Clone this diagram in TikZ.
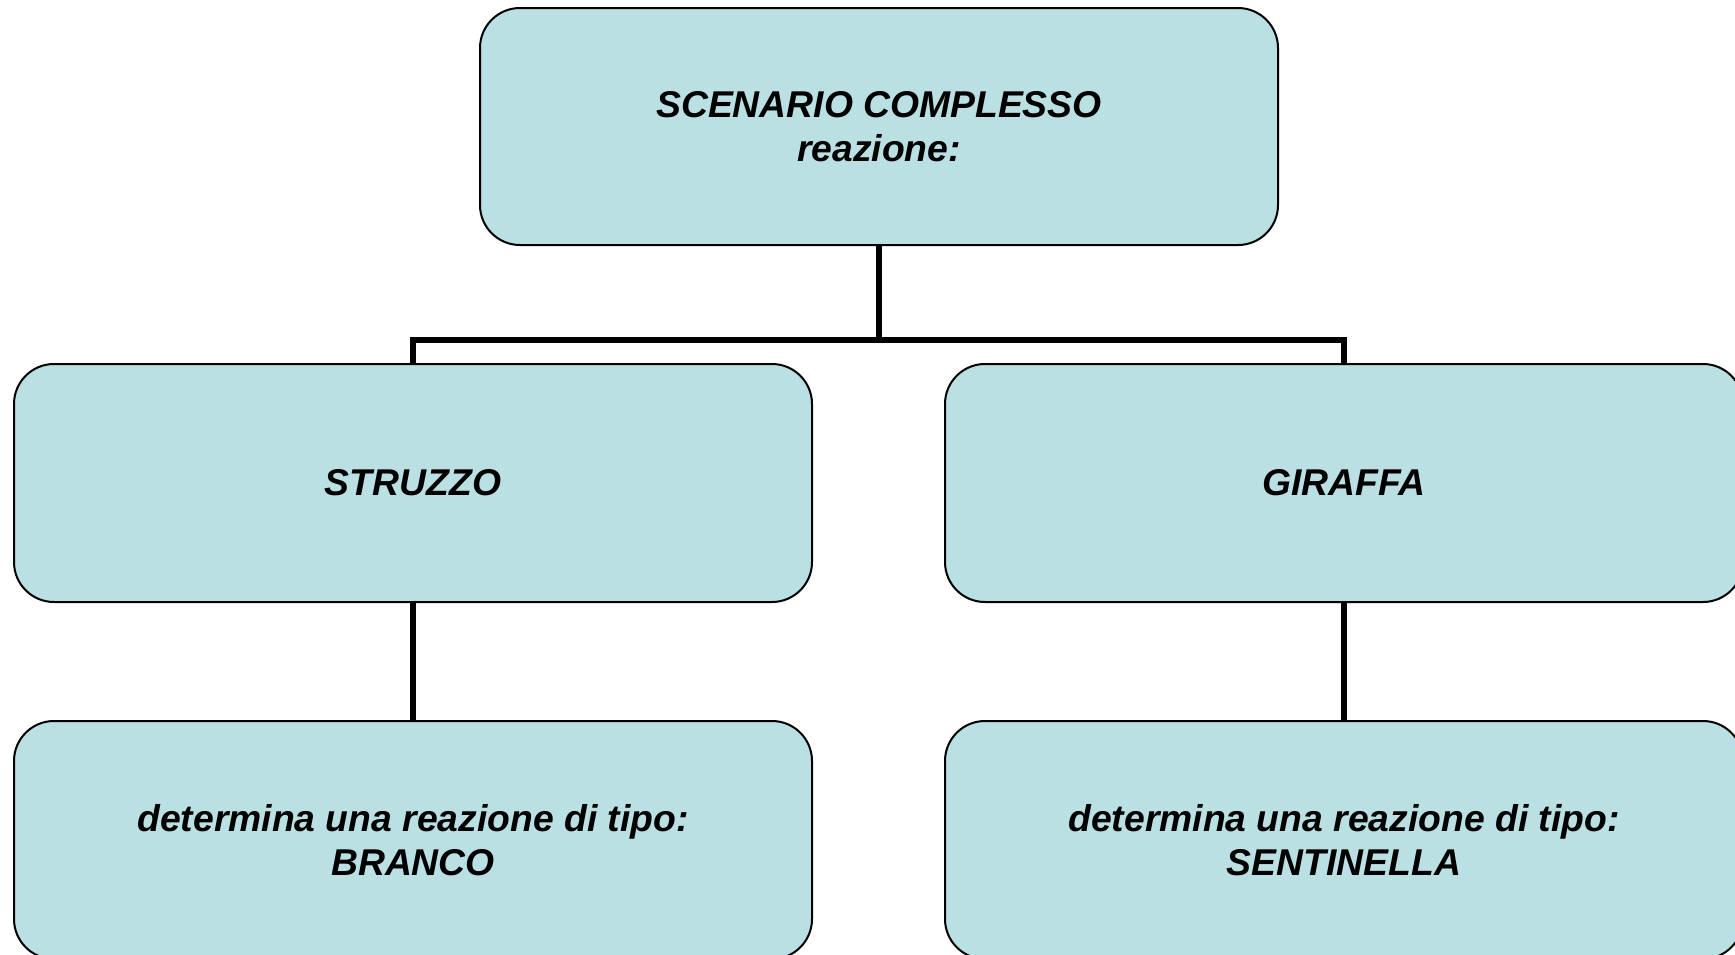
\documentclass[tikz,border=0pt]{standalone}
\usepackage{fontspec}
\setmainfont{Liberation Sans}
\definecolor{boxfill}{RGB}{186,224,227}
\tikzset{
  box/.style={draw=black, line width=2pt, fill=boxfill, rounded corners=40pt,
    minimum width=798pt, minimum height=238pt, inner sep=0pt, align=center,
    font=\fontsize{37.3}{44}\selectfont\bfseries\itshape},
  conn/.style={draw=black, line width=5.5pt}
}
\begin{document}
\begin{tikzpicture}[x=1pt,y=-1pt]
\useasboundingbox (0,0) rectangle (1735,954);
\clip (0,0) rectangle (1735,954);
\node[box, minimum height=237pt] (top) at (879,126.5) {SCENARIO COMPLESSO\\reazione:};
\node[box] (sl) at (413,483) {STRUZZO};
\node[box] (sr) at (1344,483) {GIRAFFA};
\node[box] (bl) at (413,840) {determina una reazione di tipo:\\BRANCO};
\node[box] (br) at (1344,840) {determina una reazione di tipo:\\SENTINELLA};
\coordinate (bus) at (879,340);
\draw[conn] (top.south) -- (bus);
\draw[conn] (sl.north) |- (bus) -| (sr.north);
\draw[conn] (sl.south) -- (bl.north);
\draw[conn] (sr.south) -- (br.north);
\end{tikzpicture}
\end{document}
